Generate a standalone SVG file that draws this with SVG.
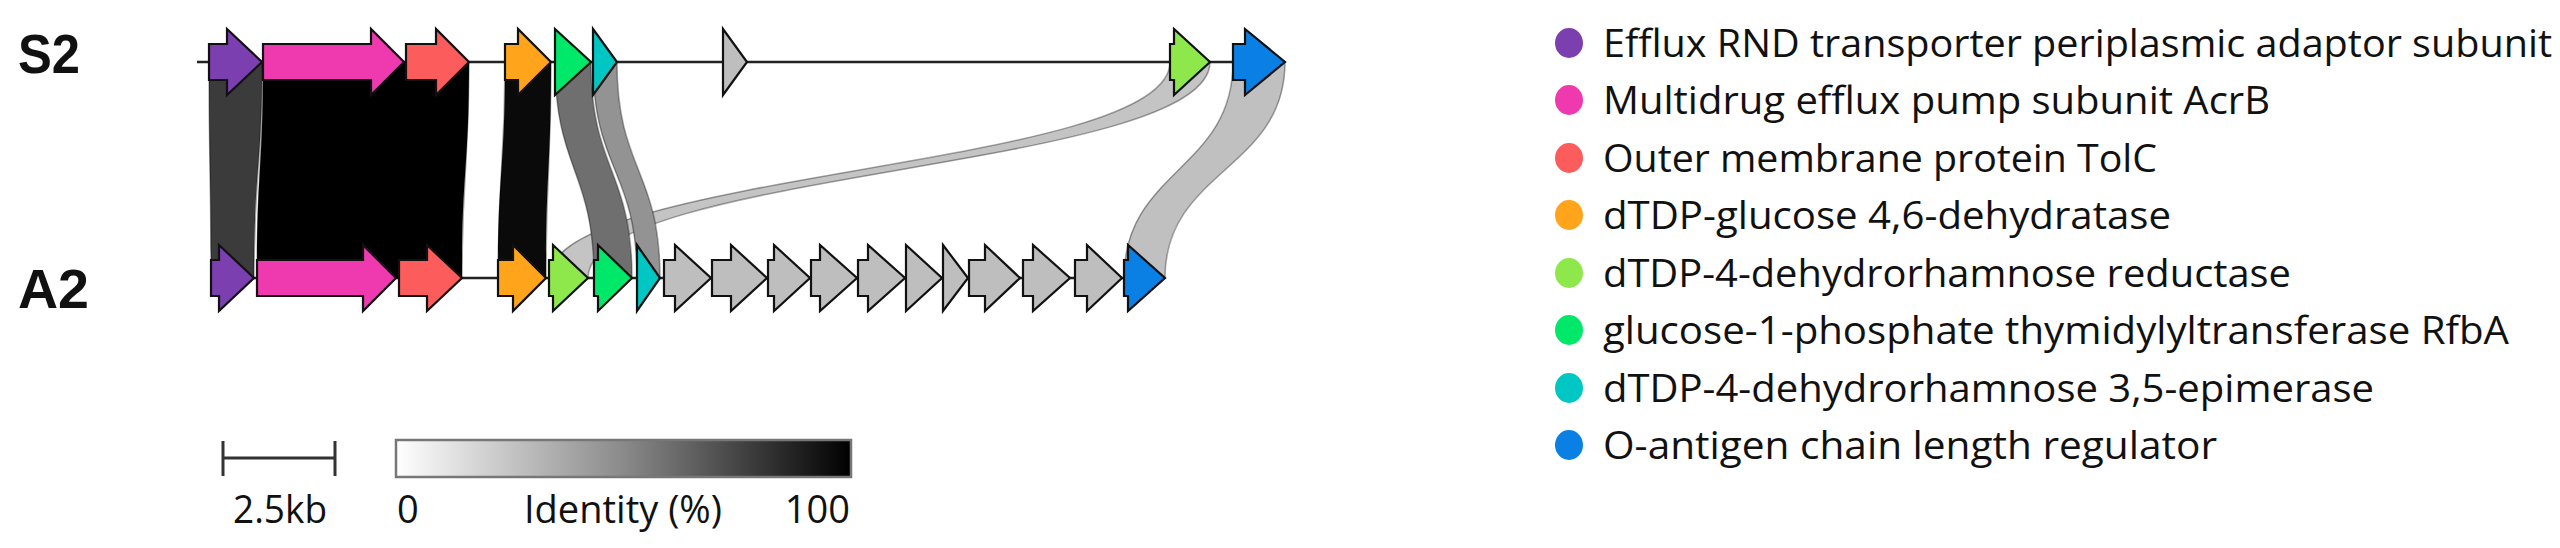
<svg xmlns="http://www.w3.org/2000/svg" width="2560" height="548" viewBox="0 0 2560 548">
<defs>
<linearGradient id="idgrad" x1="0" y1="0" x2="1" y2="0">
<stop offset="0" stop-color="#ffffff"/>
<stop offset="0.5" stop-color="#8a8a8a"/>
<stop offset="1" stop-color="#000000"/>
</linearGradient>
</defs>
<style>
.gene{stroke:#111;stroke-width:2.2;stroke-linejoin:miter}
.link{stroke:#000;stroke-opacity:0.35;stroke-width:1.5}
.track{stroke:#222;stroke-width:2.5}
.lbl{font-family:"Open Sans","Noto Sans",sans-serif;font-size:38px;fill:#111}
.gname{font-family:"Liberation Sans",Arial,sans-serif;font-size:56px;font-weight:bold;fill:#111}
.purple{fill:#7B3FB0}.pink{fill:#EE3AAE}.red{fill:#FD5C5C}.orange{fill:#FFA41B}
.green{fill:#00E86A}.teal{fill:#00C7C4}.lgreen{fill:#8FE84B}.blue{fill:#0A7FE4}.gray{fill:#BEBEBE}
</style>
<rect width="2560" height="548" fill="#ffffff"/>

<text class="gname" x="18" y="73" textLength="62" lengthAdjust="spacingAndGlyphs">S2</text>
<text class="gname" x="18" y="308" textLength="71" lengthAdjust="spacingAndGlyphs">A2</text>

<line class="track" x1="197" y1="62" x2="1285" y2="62"/>
<line class="track" x1="211" y1="278" x2="1165" y2="278"/>

<g id="connectors">
<path class="link" fill="#c4c4c4" d="M1170,62 C1170,170 549,170 549,278 L588,278 C588,170 1210,170 1210,62 Z"/>
<path class="link" fill="#c0c0c0" d="M1233,62 C1233,170 1124,170 1124,278 L1165,278 C1165,170 1285,170 1285,62 Z"/>
<path class="link" fill="#3b3b3b" d="M209,62 C209,170 211,170 211,278 L254,278 C254,170 262,170 262,62 Z"/>
<path class="link" fill="#000000" d="M263,62 C263,170 257,170 257,278 L462,278 C462,170 469,170 469,62 Z"/>
<path class="link" fill="#0a0a0a" d="M505,62 C505,170 498,170 498,278 L546,278 C546,170 551,170 551,62 Z"/>
<path class="link" fill="#6f6f6f" d="M555,62 C555,170 594,170 594,278 L632,278 C632,170 591,170 591,62 Z"/>
<path class="link" fill="#939393" d="M593,62 C593,170 637,170 637,278 L660,278 C660,170 617,170 617,62 Z"/>
</g>

<g id="S2-genes">
<g id="s2-acrA"><polygon class="gene purple" points="209,44 227,44 227,29 262,62 227,95 227,80 209,80"/></g>
<g id="s2-acrB"><polygon class="gene pink" points="263,44 371,44 371,29 404,62 371,95 371,80 263,80"/></g>
<g id="s2-tolC"><polygon class="gene red" points="406,44 436,44 436,29 469,62 436,95 436,80 406,80"/></g>
<g id="s2-rfbB"><polygon class="gene orange" points="505,44 518,44 518,29 551,62 518,95 518,80 505,80"/></g>
<g id="s2-rfbA"><polygon class="gene green" points="555,29 591,62 555,95"/></g>
<g id="s2-rfbC"><polygon class="gene teal" points="593,29 617,62 593,95"/></g>
<g id="s2-orf"><polygon class="gene gray" points="723,29 747,62 723,95"/></g>
<g id="s2-rfbD"><polygon class="gene lgreen" points="1170,44 1174,44 1174,29 1210,62 1174,95 1174,80 1170,80"/></g>
<g id="s2-wzz"><polygon class="gene blue" points="1233,44 1245,44 1245,29 1285,62 1245,95 1245,80 1233,80"/></g>
</g>

<g id="A2-genes">
<g id="a2-acrA"><polygon class="gene purple" points="211,260 219,260 219,245 254,278 219,311 219,296 211,296"/></g>
<g id="a2-acrB"><polygon class="gene pink" points="257,260 363,260 363,245 396,278 363,311 363,296 257,296"/></g>
<g id="a2-tolC"><polygon class="gene red" points="399,260 427,260 427,245 462,278 427,311 427,296 399,296"/></g>
<g id="a2-rfbB"><polygon class="gene orange" points="498,260 513,260 513,245 546,278 513,311 513,296 498,296"/></g>
<g id="a2-rfbD"><polygon class="gene lgreen" points="549,260 553,260 553,245 588,278 553,311 553,296 549,296"/></g>
<g id="a2-rfbA"><polygon class="gene green" points="594,260 598,260 598,245 632,278 598,311 598,296 594,296"/></g>
<g id="a2-rfbC"><polygon class="gene teal" points="637,245 660,278 637,311"/></g>
<g id="a2-g1"><polygon class="gene gray" points="664,260 675,260 675,245 711,278 675,311 675,296 664,296"/></g>
<g id="a2-g2"><polygon class="gene gray" points="712,260 731,260 731,245 767,278 731,311 731,296 712,296"/></g>
<g id="a2-g3"><polygon class="gene gray" points="768,260 774,260 774,245 810,278 774,311 774,296 768,296"/></g>
<g id="a2-g4"><polygon class="gene gray" points="811,260 820,260 820,245 857,278 820,311 820,296 811,296"/></g>
<g id="a2-g5"><polygon class="gene gray" points="858,260 868,260 868,245 905,278 868,311 868,296 858,296"/></g>
<g id="a2-g6"><polygon class="gene gray" points="906,245 942,278 906,311"/></g>
<g id="a2-g7"><polygon class="gene gray" points="943,245 968,278 943,311"/></g>
<g id="a2-g8"><polygon class="gene gray" points="969,260 985,260 985,245 1020,278 985,311 985,296 969,296"/></g>
<g id="a2-g9"><polygon class="gene gray" points="1023,260 1033,260 1033,245 1070,278 1033,311 1033,296 1023,296"/></g>
<g id="a2-g10"><polygon class="gene gray" points="1075,260 1087,260 1087,245 1122,278 1087,311 1087,296 1075,296"/></g>
<g id="a2-wzz"><polygon class="gene blue" points="1124,260 1128,260 1128,245 1165,278 1128,311 1128,296 1124,296"/></g>
</g>

<g id="scalebar">
<line x1="223" y1="458" x2="335" y2="458" stroke="#333" stroke-width="3"/>
<line x1="223" y1="441" x2="223" y2="476" stroke="#333" stroke-width="3"/>
<line x1="335" y1="441" x2="335" y2="476" stroke="#333" stroke-width="3"/>
<text class="lbl" x="233" y="523" textLength="94" lengthAdjust="spacingAndGlyphs">2.5kb</text>
</g>

<g id="identity-key">
<rect x="396" y="440" width="455" height="37" fill="url(#idgrad)" stroke="#777" stroke-width="2.5"/>
<text class="lbl" x="397" y="523">0</text>
<text class="lbl" x="524" y="523" textLength="198" lengthAdjust="spacingAndGlyphs">Identity (%)</text>
<text class="lbl" x="850" y="523" text-anchor="end">100</text>
</g>

<g id="legend">
<g id="leg1"><ellipse class="purple" cx="1569" cy="43" rx="14" ry="15"/><text class="lbl" x="1603" y="57" textLength="949" lengthAdjust="spacingAndGlyphs">Efflux RND transporter periplasmic adaptor subunit</text></g>
<g id="leg2"><ellipse class="pink" cx="1569" cy="100" rx="14" ry="15"/><text class="lbl" x="1603" y="114" textLength="667" lengthAdjust="spacingAndGlyphs">Multidrug efflux pump subunit AcrB</text></g>
<g id="leg3"><ellipse class="red" cx="1569" cy="158" rx="14" ry="15"/><text class="lbl" x="1603" y="172" textLength="554" lengthAdjust="spacingAndGlyphs">Outer membrane protein TolC</text></g>
<g id="leg4"><ellipse class="orange" cx="1569" cy="215" rx="14" ry="15"/><text class="lbl" x="1603" y="229" textLength="568" lengthAdjust="spacingAndGlyphs">dTDP-glucose 4,6-dehydratase</text></g>
<g id="leg5"><ellipse class="lgreen" cx="1569" cy="273" rx="14" ry="15"/><text class="lbl" x="1603" y="287" textLength="688" lengthAdjust="spacingAndGlyphs">dTDP-4-dehydrorhamnose reductase</text></g>
<g id="leg6"><ellipse class="green" cx="1569" cy="330" rx="14" ry="15"/><text class="lbl" x="1603" y="344" textLength="906" lengthAdjust="spacingAndGlyphs">glucose-1-phosphate thymidylyltransferase RfbA</text></g>
<g id="leg7"><ellipse class="teal" cx="1569" cy="388" rx="14" ry="15"/><text class="lbl" x="1603" y="402" textLength="771" lengthAdjust="spacingAndGlyphs">dTDP-4-dehydrorhamnose 3,5-epimerase</text></g>
<g id="leg8"><ellipse class="blue" cx="1569" cy="445" rx="14" ry="15"/><text class="lbl" x="1603" y="459" textLength="614" lengthAdjust="spacingAndGlyphs">O-antigen chain length regulator</text></g>
</g>
</svg>
